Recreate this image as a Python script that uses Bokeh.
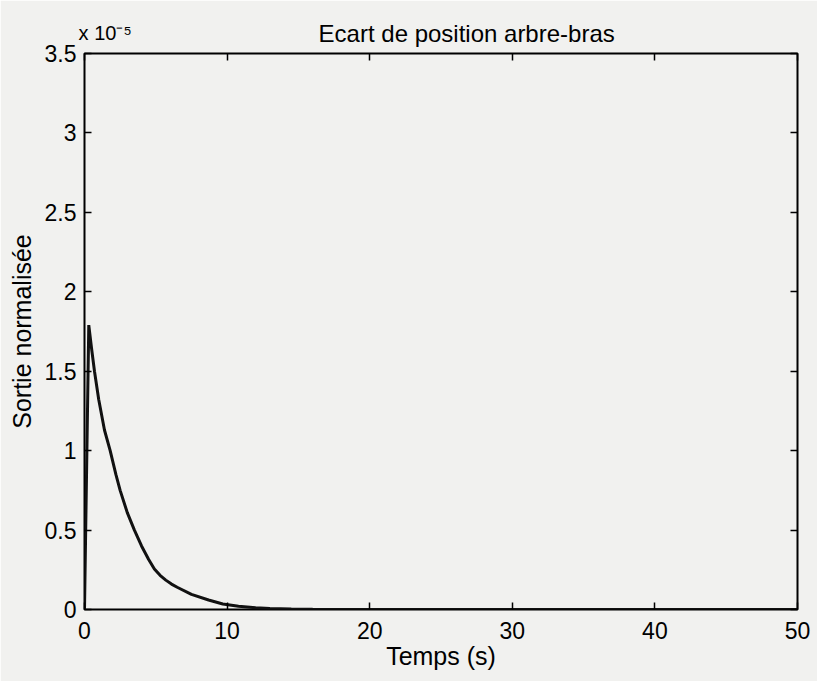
from bokeh.plotting import figure
from bokeh.models import LinearAxis, FixedTicker, Range1d
from bokeh.embed import file_html
from bokeh.resources import INLINE

# Data (Sortie normalisée in units of 1e-5)
temps = [0, 0.3, 0.5, 0.7, 1.0, 1.4, 1.8, 2.2, 2.5, 3.0, 3.5, 4.0, 4.5, 4.9, 5.3, 5.7, 6.1, 6.5, 7.5, 8.7, 9.7, 10.8, 12, 13, 14.5, 16, 18, 20, 30, 40, 50]
sortie = [0, 1.79, 1.64, 1.5, 1.32, 1.13, 1.0, 0.85, 0.75, 0.61, 0.5, 0.4, 0.315, 0.255, 0.215, 0.185, 0.16, 0.14, 0.095, 0.06, 0.035, 0.02, 0.011, 0.006, 0.003, 0.001, 0.0005, 0, 0, 0, 0]
x_ticks = [0, 10, 20, 30, 40, 50]
y_ticks = [0, 0.5, 1, 1.5, 2, 2.5, 3, 3.5]
y_tick_labels = {0: "0", 0.5: "0.5", 1: "1", 1.5: "1.5", 2: "2", 2.5: "2.5", 3: "3", 3.5: "3.5"}
title_text = "Ecart de position arbre-bras"
title_anchor = 26.8   # x (s) under the centre of the title, as in the scan
multiplier = "x 10\u207b\u2075"

FONT = "Liberation Sans"
BG = "#f1f1ef"

p = figure(width=817, height=681, output_backend="svg", toolbar_location=None,
           x_range=Range1d(0, 50), y_range=Range1d(0, 3.5),
           min_border_left=84, min_border_right=20, min_border_top=53, min_border_bottom=72)

p.background_fill_color = BG
p.border_fill_color = BG
p.outline_line_color = "black"
p.outline_line_width = 2
p.grid.visible = False

p.line(temps, sortie, line_color="#111111", line_width=3)

def style_axis(ax, show_labels):
    ax.axis_line_color = None
    ax.major_tick_in = 7
    ax.major_tick_out = 0
    ax.minor_tick_line_color = None
    ax.major_tick_line_color = "black"
    ax.major_tick_line_width = 1.5
    ax.major_label_text_font = FONT
    ax.major_label_text_font_size = "23px"
    ax.major_label_text_color = "black"
    ax.axis_label_text_font = FONT
    ax.axis_label_text_font_size = "25px"
    ax.axis_label_text_font_style = "normal"
    ax.axis_label_text_color = "black"
    if not show_labels:
        ax.major_label_text_font_size = "0px"
        ax.major_label_text_color = None
        ax.major_label_standoff = 0

p.xaxis.ticker = FixedTicker(ticks=x_ticks)
p.yaxis.ticker = FixedTicker(ticks=y_ticks)
p.yaxis.major_label_overrides = y_tick_labels
p.xaxis.axis_label = "Temps (s)"
p.yaxis.axis_label = "Sortie normalisée"
style_axis(p.xaxis[0], True)
style_axis(p.yaxis[0], True)
p.xaxis.major_label_standoff = 12
p.yaxis.major_label_standoff = 8
p.xaxis.axis_label_standoff = 0
p.yaxis.axis_label_standoff = 6

top = LinearAxis(ticker=FixedTicker(ticks=x_ticks))
right = LinearAxis(ticker=FixedTicker(ticks=y_ticks))
style_axis(top, False)
style_axis(right, False)
p.add_layout(top, "above")
p.add_layout(right, "right")

# title row: the title and the exponent multiplier share one line above the axes
head = LinearAxis(ticker=FixedTicker(ticks=[title_anchor]),
                  axis_label="\u00a0" * 6 + "\u2009\u2009" + multiplier)
head.major_label_overrides = {title_anchor: title_text}
head.axis_line_color = None
head.major_tick_in = 0
head.major_tick_out = 0
head.major_tick_line_color = None
head.minor_tick_line_color = None
head.major_label_text_font = FONT
head.major_label_text_font_size = "24px"
head.major_label_text_color = "black"
head.major_label_standoff = 7
head.axis_label_text_font = FONT
head.axis_label_text_font_size = "20px"
head.axis_label_text_font_style = "normal"
head.axis_label_text_color = "black"
head.axis_label_standoff = -27
head.axis_label_align = "start"
p.add_layout(head, "above")

open("out.html", "w").write(file_html(p, INLINE))
